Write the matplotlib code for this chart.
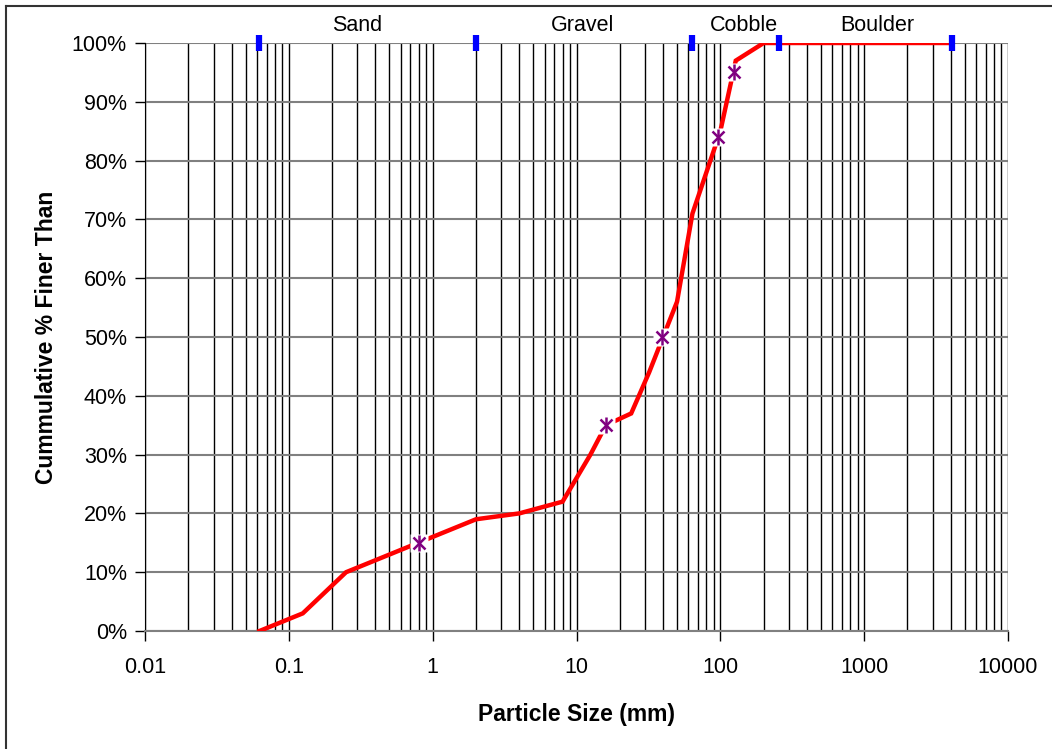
import matplotlib
matplotlib.use("Agg")
import matplotlib.pyplot as plt
from matplotlib.lines import Line2D
from matplotlib.ticker import LogLocator, FixedLocator, PercentFormatter

plt.rcParams['font.family'] = ['Liberation Sans', 'DejaVu Sans']

# gradation curve (sieve size mm, cumulative % finer)
sizes = [0.0625, 0.125, 0.25, 2, 4, 8, 12.5, 16, 24, 32, 50, 64, 100, 128, 200, 4096]
finer = [0, 3, 10, 19, 20, 22, 30, 35, 37, 44, 56, 71, 85, 97, 100, 100]

# characteristic diameters
d_sizes = [0.8, 16, 39, 97, 124]
d_finer = [15, 35, 50, 84, 95]

# size class boundaries and labels
bounds = [0.0625, 2, 64, 256, 4096]
class_names = ["Sand", "Gravel", "Cobble", "Boulder"]
class_pos = [0.3, 11, 145, 1230]

fig = plt.figure(figsize=(10.52, 7.49), dpi=100)
ax = fig.add_axes([145 / 1052, 1 - 631 / 749, 863 / 1052, 588 / 749])

ax.set_xscale('log')
ax.set_xlim(0.01, 10000)
ax.set_ylim(0, 100)

# grid: black verticals, gray horizontals
ax.xaxis.set_major_locator(LogLocator(base=10, numticks=10))
ax.xaxis.set_minor_locator(LogLocator(base=10, subs=range(2, 10), numticks=20))
ax.yaxis.set_major_locator(FixedLocator(range(0, 101, 10)))
ax.grid(True, which='both', axis='x', color='black', lw=1.0)
ax.grid(True, which='major', axis='y', color='#808080', lw=1.5)
ax.set_axisbelow(True)

ax.plot(sizes, finer, color='#ff0000', lw=3.2, solid_joinstyle='miter', zorder=3)

# markers with white box behind them
ax.plot(d_sizes, d_finer, ls='none', marker='s', ms=13, mfc='white', mec='none', zorder=4)
ax.plot(d_sizes, d_finer, ls='none', marker='x', ms=9, mew=1.8, color='#800080', zorder=5)
ax.plot(d_sizes, d_finer, ls='none', marker='|', ms=11, mew=1.8, color='#800080', zorder=5)

ax.plot(bounds, [100] * len(bounds), ls='none', marker='|', ms=12, mew=4.5,
        color='#0000ff', zorder=6, clip_on=False)

for name, xp in zip(class_names, class_pos):
    ax.text(xp, 102.9, name, ha='center', va='center', fontsize=15.5, clip_on=False)

for s in ['top', 'right']:
    ax.spines[s].set_visible(False)
ax.spines['left'].set_color('black')
ax.spines['bottom'].set_color('#808080')
ax.spines['bottom'].set_linewidth(1.5)

ax.set_xticks([0.01, 0.1, 1, 10, 100, 1000, 10000])
ax.set_xticklabels(['0.01', '0.1', '1', '10', '100', '1000', '10000'])
ax.yaxis.set_major_formatter(PercentFormatter(decimals=0))
ax.tick_params(axis='both', which='major', direction='out', length=7, width=1,
               labelsize=15.5, pad=6)
ax.tick_params(axis='x', which='minor', length=0)
ax.tick_params(axis='x', which='major', pad=12)

ax.set_xlabel("Particle Size (mm)", fontsize=16.5, fontweight='bold', labelpad=18)
ax.set_ylabel("Cummulative % Finer Than", fontsize=16.5, fontweight='bold', labelpad=10)

# outer chart border (left and top visible)
fig.add_artist(Line2D([5.5 / 1052, 5.5 / 1052], [0, 1 - 5.5 / 749], color='#333333', lw=1.5))
fig.add_artist(Line2D([5.5 / 1052, 1], [1 - 5.5 / 749, 1 - 5.5 / 749], color='#333333', lw=1.5))

fig.savefig("out.png", dpi=100)
